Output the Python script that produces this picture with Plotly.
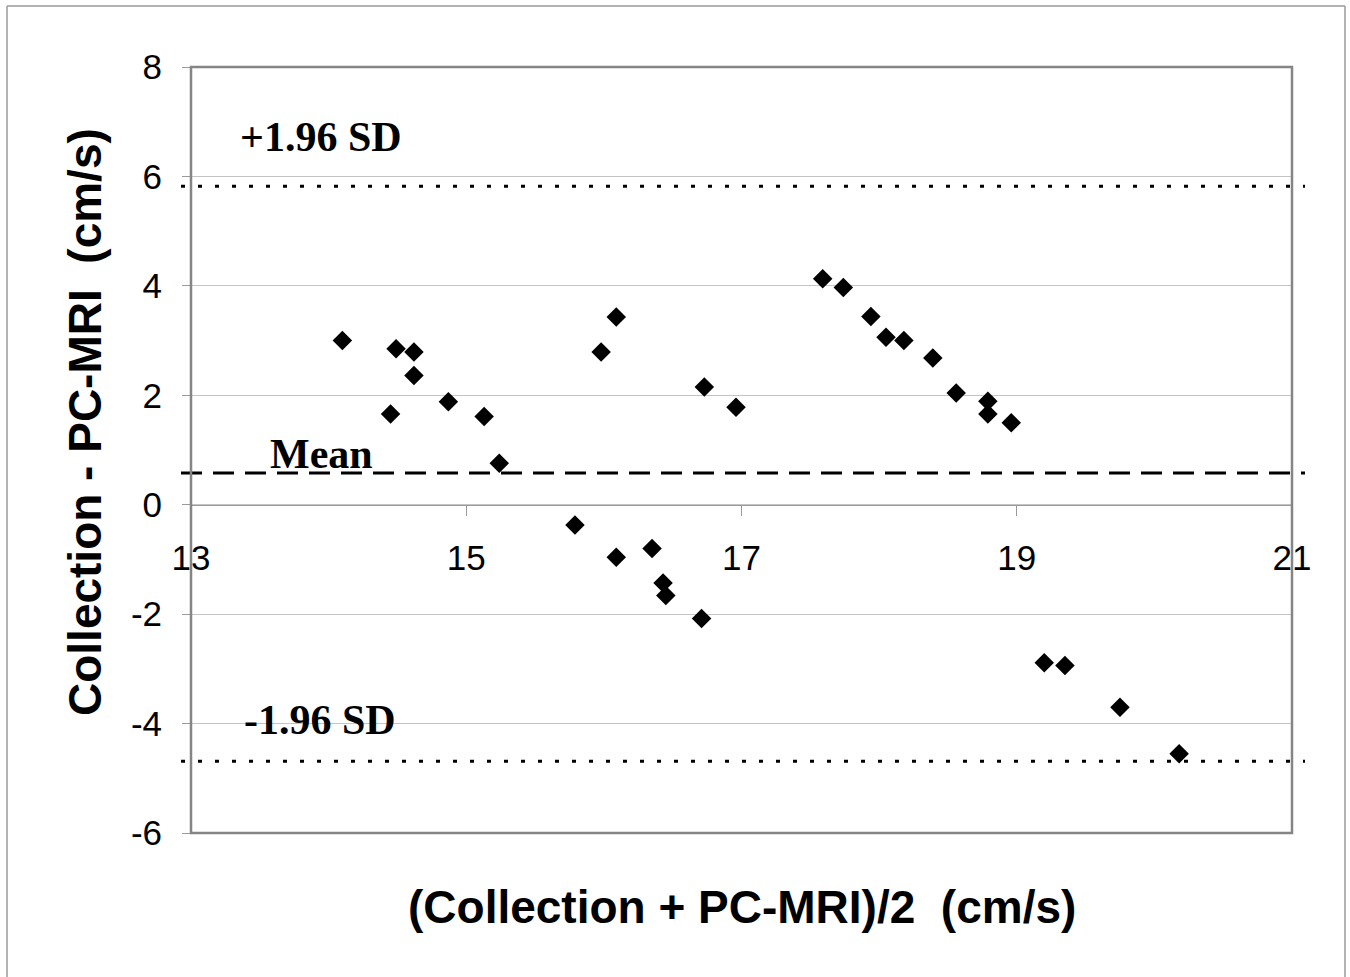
import plotly.graph_objects as go

# Bland-Altman data
mean_vals = [14.10, 14.45, 14.49, 14.62, 14.62, 14.87, 15.13, 15.24,
             15.79, 15.98, 16.09, 16.09, 16.35, 16.43, 16.45, 16.71, 16.73, 16.96,
             17.59, 17.74, 17.94, 18.05, 18.18, 18.39, 18.56, 18.79, 18.79, 18.96,
             19.20, 19.35, 19.75, 20.18]
diff_vals = [3.00, 1.66, 2.85, 2.79, 2.36, 1.88, 1.61, 0.76,
             -0.37, 2.79, 3.43, -0.96, -0.80, -1.43, -1.66, -2.08, 2.15, 1.78,
             4.13, 3.97, 3.44, 3.06, 3.00, 2.68, 2.04, 1.89, 1.66, 1.50,
             -2.89, -2.94, -3.70, -4.55]

mean_diff = 0.58
upper_loa = 5.82
lower_loa = -4.69

x_ticks = [13, 15, 17, 19, 21]
y_ticks = [-6, -4, -2, 0, 2, 4, 6, 8]
x_range = [13, 21]
y_range = [-6, 8]

W, H = 1350, 977
L, R, T, B = 191, 58, 67, 144
pw, ph = W - L - R, H - T - B

def px(xp):
    return (xp - L) / pw

def py(yp):
    return (T + ph - yp) / ph

sans = "Liberation Sans Narrow, Arial Narrow, Liberation Sans, Arial"
serif = "Liberation Serif, Times New Roman, serif"

fig = go.Figure()
fig.add_trace(go.Scatter(
    x=mean_vals, y=diff_vals, mode="markers",
    marker=dict(symbol="diamond", size=15, color="black", line=dict(width=0)),
    showlegend=False, cliponaxis=False,
))

shapes = []
for val, dash, wdt in [(upper_loa, "4px,13px", 3), (lower_loa, "4px,13px", 3), (mean_diff, "21px,11px", 3)]:
    shapes.append(dict(type="line", xref="paper", yref="y",
                       x0=px(181), x1=px(1305), y0=val, y1=val,
                       line=dict(color="black", width=wdt, dash=dash), layer="above"))
shapes.append(dict(type="rect", xref="paper", yref="paper", x0=0, x1=1, y0=0, y1=1,
                   line=dict(color="#858585", width=2.5), layer="above"))
for (xa, ya, xb, yb) in [(7, 6, 1345, 6), (7, 6, 7, 990), (1345, 6, 1345, 990)]:
    shapes.append(dict(type="line", xref="paper", yref="paper",
                       x0=px(xa), y0=py(ya), x1=px(xb), y1=py(yb),
                       line=dict(color="#9a9a9a", width=1.5)))

annotations = [
    dict(text="<b>+1.96 SD</b>", x=13.34, y=6.72, xref="x", yref="y",
         xanchor="left", yanchor="middle", showarrow=False,
         font=dict(family=serif, size=42, color="black")),
    dict(text="<b>Mean</b>", x=13.56, y=0.92, xref="x", yref="y",
         xanchor="left", yanchor="middle", showarrow=False,
         font=dict(family=serif, size=42, color="black")),
    dict(text="<b>-1.96 SD</b>", x=13.37, y=-3.93, xref="x", yref="y",
         xanchor="left", yanchor="middle", showarrow=False,
         font=dict(family=serif, size=42, color="black")),
    dict(text="<b>(Collection + PC-MRI)/2  (cm/s)</b>", x=px(742), y=py(907),
         xref="paper", yref="paper", xanchor="center", yanchor="middle",
         showarrow=False, font=dict(family=sans, size=46, color="black")),
    dict(text="<b>Collection - PC-MRI  (cm/s)</b>", x=px(85), y=py(422),
         xref="paper", yref="paper", xanchor="center", yanchor="middle",
         textangle=-90, showarrow=False,
         font=dict(family=sans, size=46, color="black")),
]

fig.update_layout(
    width=W, height=H,
    margin=dict(l=L, r=R, t=T, b=B),
    paper_bgcolor="white", plot_bgcolor="white",
    shapes=shapes, annotations=annotations,
    xaxis=dict(range=x_range, tickvals=x_ticks, ticktext=[str(v) for v in x_ticks],
               anchor="free", position=(0 - y_range[0]) / (y_range[1] - y_range[0]),
               showgrid=False, zeroline=False, showline=True, linecolor="#9a9a9a", linewidth=1,
               ticks="outside", ticklen=10, tickcolor="#9a9a9a", tickwidth=1,
               ticklabelstandoff=12,
               tickfont=dict(family=sans, size=35, color="black")),
    yaxis=dict(range=y_range, tickvals=y_ticks, ticktext=[str(v) for v in y_ticks],
               showgrid=True, gridcolor="#c4c4c4", gridwidth=1, zeroline=False,
               showline=False, ticks="outside", ticklen=8, tickcolor="#9a9a9a", tickwidth=1,
               ticklabelstandoff=13,
               tickfont=dict(family=sans, size=35, color="black")),
)

fig.write_html("out.html", config={"displayModeBar": False},
               post_script="document.body.style.margin='0';document.body.style.overflow='hidden';")
